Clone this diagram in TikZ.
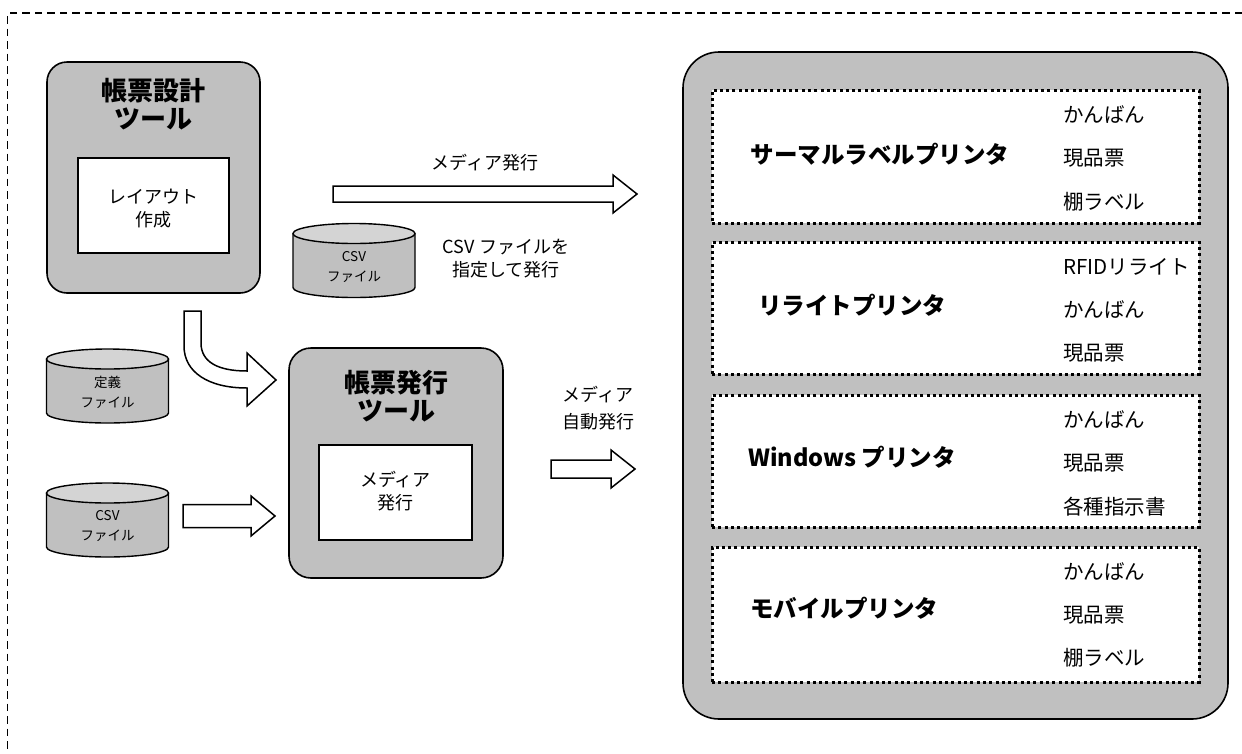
\documentclass[tikz,border=0pt]{standalone}
\usepackage{fontspec}
\setmainfont{Noto Sans CJK JP}
\definecolor{toolgray}{HTML}{C0C0C0}
\definecolor{captop}{HTML}{D4D4D4}

\tikzset{
  outline/.style={draw=black,line width=1.6pt},
  toolbox/.style={outline,fill=toolgray,rounded corners=20pt,inner sep=0pt},
  workbox/.style={draw=black,line width=1.4pt,fill=white,inner sep=0pt},
  printerbox/.style={draw=black,fill=white,line width=3pt,
    dash pattern=on 3pt off 3.3pt,inner sep=0pt,minimum width=487pt},
  framedash/.style={draw=black,line width=1.6pt,dash pattern=on 7.5pt off 5pt},
  arrowline/.style={draw=black,line width=1.5pt,fill=white,line join=miter},
  titletxt/.style={font=\bfseries\fontsize{26}{28}\selectfont,align=center,inner sep=0pt},
  printertxt/.style={font=\bfseries\fontsize{23.5}{26}\selectfont,inner sep=0pt},
  itemtxt/.style={font=\fontsize{20.5}{22}\selectfont,anchor=west,inner sep=0pt},
  labeltxt/.style={font=\fontsize{18}{23}\selectfont,align=center,inner sep=0pt},
  cyltxt/.style={font=\fontsize{13.5}{20}\selectfont,align=center,inner sep=0pt},
  % a storage cylinder centred on the pic origin
  pics/dbcyl/.style={code={
    \draw[draw=black,line width=1.4pt,fill=toolgray]
      (-61,-27) -- (-61,27) arc[start angle=180,end angle=0,x radius=61,y radius=10] -- (61,-27);
    \draw[draw=black,line width=1.4pt,fill=captop] (0,-27) ellipse[x radius=61,y radius=10];
  }},
  % straight block arrow: length / shaft half-width / head half-width
  pics/fatarrow/.style n args={3}{code={
    \draw[arrowline] (0,-#2) -- ({#1-24},-#2) -- ({#1-24},-#3) -- (#1,0)
      -- ({#1-24},#3) -- ({#1-24},#2) -- (0,#2) -- cycle;
  }}
}

\begin{document}
\begin{tikzpicture}[x=1pt,y=-1pt]
\useasboundingbox (0,0) rectangle (1242,753);

% outer dashed frame
\coordinate (frameTR) at (1242,13);
\coordinate (frameTL) at (7.5,13);
\coordinate (frameBL) at (7.5,753);
\draw[framedash] (frameTR) -- (frameTL) -- (frameBL);

% form design tool
\node[toolbox,minimum width=213pt,minimum height=231pt] (design) at (153.5,177.5) {};
\node[titletxt] (designtitle) at (153.5,104) {帳票設計\\ツール};
\node[workbox,minimum width=151pt,minimum height=95pt] (layout) at (153.5,205.5) {};
\node[labeltxt] (layouttxt) at (153.5,208.5) {レイアウト\\作成};

% form issuing tool
\node[toolbox,minimum width=214pt,minimum height=230pt,rounded corners=22pt] (issue) at (396,463) {};
\node[titletxt] (issuetitle) at (396,396.5) {帳票発行\\ツール};
\node[workbox,minimum width=153pt,minimum height=95pt] (media) at (395.5,492.5) {};
\node[labeltxt] (mediatxt) at (395.5,491.5) {メディア\\発行};

% data files
\pic at (354,260.5) {dbcyl};
\node[cyltxt] (csvA) at (354,267) {CSV\\ファイル};
\pic at (107.5,386) {dbcyl};
\node[cyltxt] (defs) at (107.5,392) {定義\\ファイル};
\pic at (107.5,520) {dbcyl};
\node[cyltxt] (csvB) at (107.5,526) {CSV\\ファイル};

% block arrows
\pic at (333,194) {fatarrow={304}{8}{19}};
\pic at (551,469) {fatarrow={84}{9}{19}};
\pic at (183,516) {fatarrow={92}{11.5}{20}};
\draw[arrowline] (184,311) -- (201,311) -- (201,343)
  .. controls (201,362) and (218,371) .. (247,371)
  -- (247,353) -- (276,380) -- (247,406) -- (247,388)
  .. controls (208,388) and (184,372) .. (184,346) -- cycle;

% arrow captions
\node[labeltxt] (cap1) at (485,163) {メディア発行};
\node[labeltxt] (cap2) at (506,258.5) {CSV ファイルを\\指定して発行};
\node[labeltxt,font=\fontsize{18}{27}\selectfont] (cap3) at (598,408.5) {メディア\\自動発行};

% printers panel
\node[toolbox,minimum width=545pt,minimum height=667pt,rounded corners=36pt] (panel) at (955.5,385.5) {};

\node[printerbox,minimum height=133pt] (thermal) at (955.5,156.5) {};
\node[printertxt] (thermaltxt) at (880,154) {サーマルラベルプリンタ};
\node[itemtxt] at (1063,115) {かんばん};
\node[itemtxt] at (1063,158) {現品票};
\node[itemtxt] at (1063,202) {棚ラベル};

\node[printerbox,minimum height=132pt] (rewrite) at (955.5,308) {};
\node[printertxt] (rewritetxt) at (852,305) {リライトプリンタ};
\node[itemtxt] at (1063,267) {RFIDリライト};
\node[itemtxt] at (1063,310) {かんばん};
\node[itemtxt] at (1063,353) {現品票};

\node[printerbox,minimum height=132pt] (windows) at (955.5,461) {};
\node[printertxt] (windowstxt) at (852,457) {Windows プリンタ};
\node[itemtxt] at (1063,420) {かんばん};
\node[itemtxt] at (1063,463) {現品票};
\node[itemtxt] at (1063,507) {各種指示書};

\node[printerbox,minimum height=135pt] (mobile) at (955.5,614.5) {};
\node[printertxt] (mobiletxt) at (844,608) {モバイルプリンタ};
\node[itemtxt] at (1063,572) {かんばん};
\node[itemtxt] at (1063,615) {現品票};
\node[itemtxt] at (1063,658) {棚ラベル};
\end{tikzpicture}
\end{document}
